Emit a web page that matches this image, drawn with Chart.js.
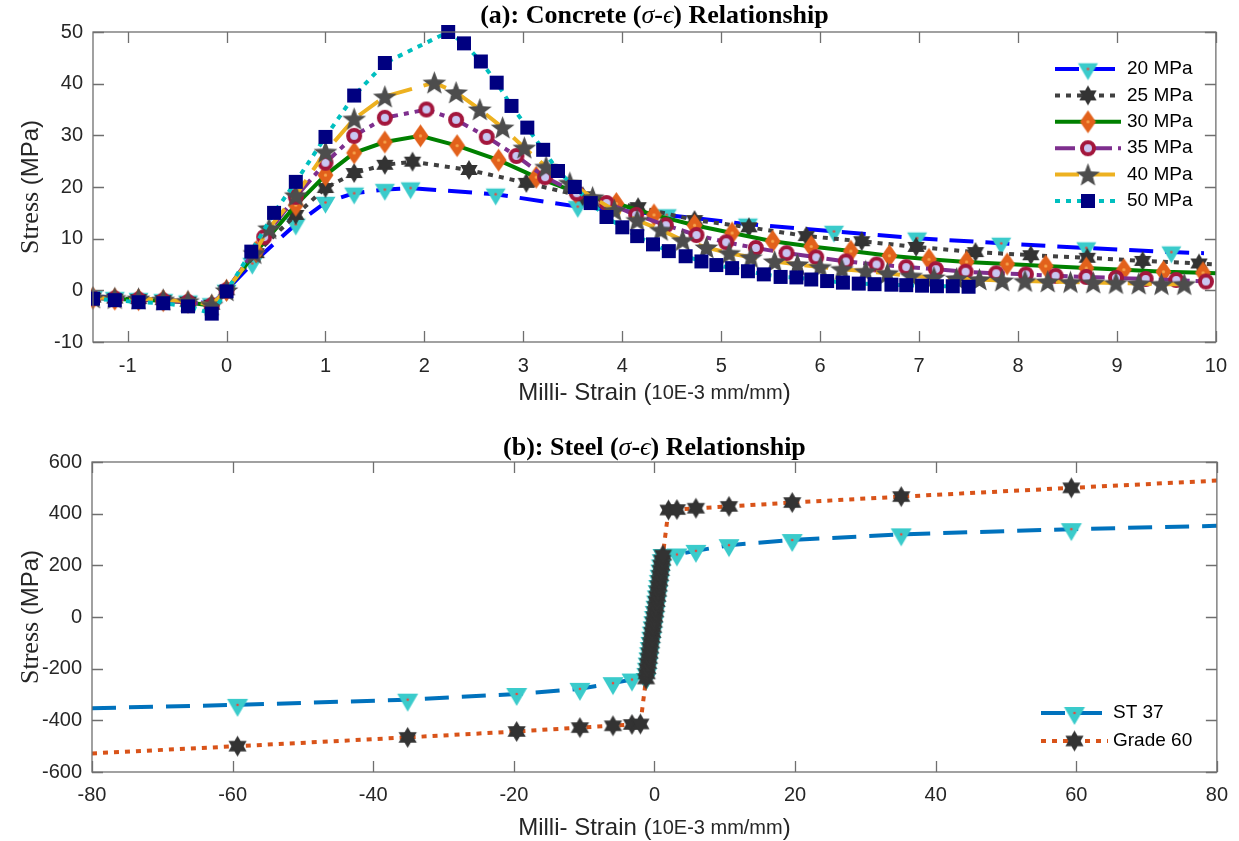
<!DOCTYPE html>
<html>
<head>
<meta charset="utf-8">
<script src="https://cdn.jsdelivr.net/npm/chart.js@4.4.1/dist/chart.umd.min.js"></script>
<style>
  html, body { margin: 0; padding: 0; background: #fff; }
  canvas { display: block; }
</style>
</head>
<body>
<canvas id="concrete" width="1239" height="420"></canvas>
<canvas id="steel" width="1239" height="421"></canvas>
<script>
// ---- concrete (a) data, strain in 10E-3 mm/mm, stress in MPa ----
const concreteLabels = ["20 MPa", "25 MPa", "30 MPa", "35 MPa", "40 MPa", "50 MPa"];

const strain20 = [-1.35, -1.13, -0.89, -0.64, -0.39, -0.15, 0, 0.26, 0.7, 1.0, 1.29, 1.6, 1.86, 2.72, 3.55, 4.45, 5.27, 6.14, 6.98, 7.83, 8.69, 9.55, 9.88];
const stress20 = [-1.2, -1.4, -1.6, -1.8, -2.1, -2.6, 0, 5.2, 12.8, 17, 18.8, 19.5, 19.8, 18.6, 16.2, 14.6, 12.8, 11.4, 10.1, 9.1, 8.2, 7.4, 7.2];

const strain25 = [-1.35, -1.13, -0.89, -0.64, -0.39, -0.15, 0, 0.3, 0.7, 1.0, 1.29, 1.6, 1.88, 2.45, 3.03, 3.6, 4.16, 4.73, 5.28, 5.86, 6.42, 6.97, 7.57, 8.13, 8.7, 9.26, 9.83, 10];
const stress25 = [-1.4, -1.6, -1.7, -1.9, -2.2, -2.8, 0, 7.2, 14.6, 19.8, 22.7, 24.3, 24.9, 23.3, 20.8, 18.2, 16.1, 13.6, 12.2, 10.5, 9.5, 8.4, 7.4, 6.8, 6.3, 5.7, 5.2, 5.0];

const strain30 = [-1.35, -1.13, -0.89, -0.64, -0.39, -0.15, 0, 0.3, 0.7, 1.0, 1.29, 1.6, 1.96, 2.33, 2.75, 3.13, 3.53, 3.94, 4.32, 4.73, 5.11, 5.52, 5.91, 6.31, 6.7, 7.1, 7.48, 7.89, 8.28, 8.69, 9.07, 9.47, 9.87, 10];
const stress30 = [-1.5, -1.7, -1.8, -2.0, -2.3, -3.0, 0, 7.5, 16.5, 22.3, 26.6, 28.7, 29.9, 28.0, 25.2, 21.9, 19.0, 16.8, 14.6, 12.6, 11.1, 9.5, 8.5, 7.6, 6.7, 6.0, 5.5, 5.1, 4.7, 4.3, 4.0, 3.6, 3.4, 3.3];

const strain35 = [-1.35, -1.13, -0.89, -0.64, -0.39, -0.15, 0, 0.38, 0.7, 1.0, 1.29, 1.6, 2.02, 2.32, 2.63, 2.93, 3.22, 3.54, 3.84, 4.14, 4.44, 4.75, 5.05, 5.35, 5.66, 5.96, 6.26, 6.57, 6.87, 7.17, 7.47, 7.78, 8.08, 8.38, 8.69, 8.99, 9.29, 9.6, 9.9];
const stress35 = [-1.5, -1.6, -1.8, -2.0, -2.3, -2.9, 0, 10.3, 18.1, 24.7, 29.9, 33.4, 35.0, 33.0, 29.7, 26.0, 21.9, 18.8, 16.9, 14.6, 12.6, 10.7, 9.3, 8.2, 7.2, 6.4, 5.6, 5.0, 4.5, 4.1, 3.6, 3.3, 3.1, 2.8, 2.6, 2.4, 2.2, 2.0, 1.7];

const strain40 = [-1.35, -1.13, -0.89, -0.64, -0.39, -0.15, 0, 0.28, 0.43, 0.7, 1.0, 1.29, 1.6, 2.1, 2.32, 2.56, 2.79, 3.01, 3.23, 3.47, 3.7, 3.92, 4.15, 4.39, 4.61, 4.85, 5.08, 5.3, 5.54, 5.77, 6.0, 6.22, 6.46, 6.68, 6.92, 7.15, 7.38, 7.61, 7.84, 8.07, 8.3, 8.53, 8.76, 8.99, 9.22, 9.45, 9.68];
const stress40 = [-1.4, -1.5, -1.6, -1.8, -2.1, -2.8, 0, 7.2, 12, 18.4, 26.8, 33.2, 37.5, 40.2, 38.3, 35, 31.5, 27.6, 23.9, 20.8, 18.0, 15.5, 13.6, 11.7, 9.7, 8.3, 7.2, 6.4, 5.6, 5.0, 4.5, 4.1, 3.7, 3.3, 2.8, 2.5, 2.3, 2.1, 1.9, 1.8, 1.7, 1.6, 1.5, 1.4, 1.3, 1.2, 1.2];

const strain50 = [-1.35, -1.13, -0.89, -0.64, -0.39, -0.15, 0, 0.25, 0.48, 0.7, 1.0, 1.29, 1.6, 2.24, 2.4, 2.57, 2.73, 2.88, 3.04, 3.2, 3.35, 3.52, 3.68, 3.84, 4.0, 4.15, 4.31, 4.47, 4.64, 4.8, 4.95, 5.11, 5.27, 5.43, 5.6, 5.76, 5.91, 6.07, 6.23, 6.39, 6.55, 6.72, 6.87, 7.03, 7.18, 7.34, 7.5];
const stress50 = [-1.6, -1.9, -2.3, -2.5, -3.1, -4.5, -0.2, 7.5, 15, 21, 29.7, 37.7, 44, 50, 47.8, 44.3, 40.2, 35.7, 31.5, 27.2, 23.1, 20.0, 16.9, 14.2, 12.2, 10.5, 8.9, 7.6, 6.6, 5.6, 4.9, 4.3, 3.7, 3.1, 2.6, 2.5, 2.1, 1.8, 1.5, 1.3, 1.2, 1.1, 1.0, 0.9, 0.8, 0.8, 0.7];

const xTicksA = [-1, 0, 1, 2, 3, 4, 5, 6, 7, 8, 9, 10];
const yTicksA = [-10, 0, 10, 20, 30, 40, 50];

// ---- steel (b) data ----
const steelLabels = ["ST 37", "Grade 60"];
const elasticStrain = [-1.2, -1.1, -1.0, -0.9, -0.8, -0.7, -0.6, -0.5, -0.4, -0.3, -0.2, -0.1, 0, 0.1, 0.2, 0.3, 0.4, 0.5, 0.6, 0.7, 0.8, 0.9, 1.0, 1.1, 1.2];
const elasticStress = [-240, -220, -200, -180, -160, -140, -120, -100, -80, -60, -40, -20, 0, 20, 40, 60, 80, 100, 120, 140, 160, 180, 200, 220, 240];

const st37StrainNeg = [-80, -59.3, -35.1, -19.6, -10.6, -5.9, -3.2];
const st37StressNeg = [-353, -340, -320, -298, -278, -256, -242];
const st37StrainPos = [3.2, 5.9, 10.6, 19.6, 35.1, 59.3, 80];
const st37StressPos = [242, 256, 278, 298, 320, 340, 353];

const g60StrainNeg = [-80, -59.3, -35.1, -19.6, -10.6, -5.9, -3.2, -2.0];
const g60StressNeg = [-528, -500, -466, -443, -428, -421, -416, -414];
const g60StrainPos = [2.0, 3.2, 5.9, 10.6, 19.6, 35.1, 59.3, 80];
const g60StressPos = [414, 416, 421, 428, 443, 466, 500, 528];

const xTicksB = [-80, -60, -40, -20, 0, 20, 40, 60, 80];
const yTicksB = [-600, -400, -200, 0, 200, 400, 600];

const SANS = "'Liberation Sans', Arial, sans-serif";
const SERIF = "'Liberation Serif', 'Times New Roman', serif";

// ---- marker images (MATLAB-like) ----
function marker(size, paint) {
  const c = document.createElement("canvas");
  c.width = size;
  c.height = size;
  const g = c.getContext("2d");
  g.translate(size / 2, size / 2);
  paint(g);
  return c;
}

function triDown(w, h) {
  return marker(Math.ceil(Math.max(w, (h * 4) / 3)) + 2, (g) => {
    g.beginPath();
    g.moveTo(-w / 2, -h / 3);
    g.lineTo(w / 2, -h / 3);
    g.lineTo(0, (2 * h) / 3);
    g.closePath();
    g.fillStyle = "#3ACBCB";
    g.fill();
    g.fillStyle = "#E8483C";
    g.beginPath();
    g.arc(0, 0, 1.3, 0, Math.PI * 2);
    g.fill();
  });
}

function hexagram(r, color) {
  return marker(Math.ceil(r * 2) + 2, (g) => {
    g.fillStyle = color;
    [1, -1].forEach((s) => {
      g.beginPath();
      g.moveTo(0, -r * s);
      g.lineTo(r * 0.866, (r / 2) * s);
      g.lineTo(-r * 0.866, (r / 2) * s);
      g.closePath();
      g.fill();
    });
  });
}

function pentagram(r, color) {
  return marker(Math.ceil(r * 2) + 2, (g) => {
    g.beginPath();
    for (let i = 0; i < 10; i++) {
      const rr = i % 2 ? r * 0.42 : r;
      const a = -Math.PI / 2 + (i * Math.PI) / 5;
      g.lineTo(rr * Math.cos(a), rr * Math.sin(a) + r * 0.08);
    }
    g.closePath();
    g.fillStyle = color;
    g.fill();
  });
}

function diamond(w, h) {
  return marker(Math.ceil(h) + 2, (g) => {
    g.beginPath();
    g.moveTo(0, -h / 2);
    g.lineTo(w / 2, 0);
    g.lineTo(0, h / 2);
    g.lineTo(-w / 2, 0);
    g.closePath();
    g.fillStyle = "#E2611B";
    g.fill();
    g.fillStyle = "#F8A64E";
    g.beginPath();
    g.arc(0, 0, 1.6, 0, Math.PI * 2);
    g.fill();
  });
}

function ring(r) {
  return marker(Math.ceil(r * 2) + 2, (g) => {
    g.beginPath();
    g.arc(0, 0, r - 2, 0, Math.PI * 2);
    g.fillStyle = "#C9C6F2";
    g.fill();
    g.lineWidth = 4;
    g.strokeStyle = "#A3163C";
    g.stroke();
  });
}

function square(s) {
  return marker(Math.ceil(s) + 2, (g) => {
    g.fillStyle = "#000080";
    g.fillRect(-s / 2, -s / 2, s, s);
  });
}

// ---- series helper ----
function series(label, xs, ys, color, dash, img, noMarkAt) {
  return {
    label: label,
    data: xs.map((x, i) => ({ x: x, y: ys[i] })),
    showLine: true,
    borderColor: color,
    backgroundColor: color,
    borderWidth: 4,
    borderDash: dash,
    tension: 0,
    pointStyle: img,
    pointRadius: xs.map((_, i) => (noMarkAt.includes(i) ? 0 : 9)),
    pointBorderWidth: 0,
    clip: { left: 2, right: 12, top: 12, bottom: 12 },
  };
}

// text runs with mixed fonts
function drawRuns(ctx, runs, cx, cy) {
  let total = 0;
  runs.forEach((r) => {
    ctx.font = r.f;
    total += ctx.measureText(r.t).width;
  });
  let x = cx - total / 2;
  ctx.textBaseline = "middle";
  ctx.textAlign = "left";
  runs.forEach((r) => {
    ctx.font = r.f;
    ctx.fillText(r.t, x, cy);
    x += ctx.measureText(r.t).width;
  });
}

// MATLAB style box, inward ticks, titles, legend
function matlabAxes(opt) {
  return {
    id: "matlabAxes",
    afterDatasetsDraw(chart) {
      const { ctx, chartArea: a, scales } = chart;
      ctx.save();
      ctx.strokeStyle = "#6f6f6f";
      ctx.lineWidth = 1.3;
      ctx.setLineDash([]);
      ctx.strokeRect(a.left, a.top, a.right - a.left, a.bottom - a.top);
      ctx.beginPath();
      scales.x.ticks.forEach((t) => {
        const px = Math.round(scales.x.getPixelForValue(t.value)) + 0.5;
        ctx.moveTo(px, a.bottom);
        ctx.lineTo(px, a.bottom - 11);
        ctx.moveTo(px, a.top);
        ctx.lineTo(px, a.top + 11);
      });
      scales.y.ticks.forEach((t) => {
        const py = Math.round(scales.y.getPixelForValue(t.value)) + 0.5;
        ctx.moveTo(a.left, py);
        ctx.lineTo(a.left + 11, py);
        ctx.moveTo(a.right, py);
        ctx.lineTo(a.right - 11, py);
      });
      ctx.stroke();

      // legend
      chart.data.datasets.forEach((ds, i) => {
        const y = opt.legend.y0 + i * opt.legend.dy;
        ctx.strokeStyle = ds.borderColor;
        ctx.lineWidth = 4;
        ctx.setLineDash(ds.borderDash);
        ctx.beginPath();
        ctx.moveTo(opt.legend.x1, y);
        ctx.lineTo(opt.legend.x2, y);
        ctx.stroke();
        const img = ds.pointStyle;
        ctx.drawImage(img, (opt.legend.x1 + opt.legend.x2) / 2 - img.width / 2, y - img.height / 2);
        ctx.setLineDash([]);
        ctx.fillStyle = "#000";
        ctx.font = "19px " + SANS;
        ctx.textAlign = "left";
        ctx.textBaseline = "middle";
        ctx.fillText(ds.label, opt.legend.tx, y);
      });
      ctx.restore();
    },
    afterDraw(chart) {
      const { ctx, chartArea: a } = chart;
      ctx.save();
      ctx.fillStyle = "#000";
      drawRuns(ctx, opt.title, (a.left + a.right) / 2, opt.titleY);
      ctx.fillStyle = "#262626";
      drawRuns(ctx, [
        { t: "Milli- Strain (", f: "24px " + SANS },
        { t: "10E-3 mm/mm", f: "20px " + SANS },
        { t: ")", f: "24px " + SANS },
      ], (a.left + a.right) / 2, a.bottom + opt.xTitleOff);
      ctx.translate(31, (a.top + a.bottom) / 2);
      ctx.rotate(-Math.PI / 2);
      drawRuns(ctx, [
        { t: "Stress ", f: "26px " + SERIF },
        { t: "(MPa)", f: "24px " + SANS },
      ], 0, 0);
      ctx.restore();
    },
  };
}

function axes(min, max, xTicks, yMin, yMax, yTicks, leftW, xH, pad) {
  const tickFont = { family: SANS, size: 20 };
  return {
    x: {
      type: "linear",
      min: min,
      max: max,
      grid: { display: false, drawTicks: false },
      border: { display: false },
      afterBuildTicks: (s) => { s.ticks = xTicks.map((v) => ({ value: v })); },
      ticks: { font: tickFont, color: "#262626", padding: pad, maxRotation: 0, autoSkip: false },
      afterFit: (s) => { s.height = xH; },
    },
    y: {
      type: "linear",
      min: yMin,
      max: yMax,
      grid: { display: false, drawTicks: false },
      border: { display: false },
      afterBuildTicks: (s) => { s.ticks = yTicks.map((v) => ({ value: v })); },
      ticks: { font: tickFont, color: "#262626", padding: 10, autoSkip: false },
      afterFit: (s) => { s.width = leftW; },
    },
  };
}

function titleRuns(head) {
  const f = 26;
  return [
    { t: head + " (", f: "bold " + f + "px " + SERIF },
    { t: "σ", f: "italic " + f + "px " + SERIF },
    { t: "-", f: "bold " + f + "px " + SERIF },
    { t: "ϵ", f: "italic " + f + "px " + SERIF },
    { t: ") Relationship", f: "bold " + f + "px " + SERIF },
  ];
}

const concreteSets = [
  series(concreteLabels[0], strain20, stress20, "#0000FF", [24, 12], triDown(20, 17), [strain20.length - 1]),
  series(concreteLabels[1], strain25, stress25, "#404040", [5, 6], hexagram(10, "#333333"), [strain25.length - 1]),
  series(concreteLabels[2], strain30, stress30, "#008000", [], diamond(16, 23), [strain30.length - 1]),
  series(concreteLabels[3], strain35, stress35, "#7E2F8E", [20, 6, 5, 6], ring(8), []),
  series(concreteLabels[4], strain40, stress40, "#EDB120", [24, 12], pentagram(12.5, "#4D4D4D"), []),
  series(concreteLabels[5], strain50, stress50, "#00BFBF", [5, 6], square(14), []),
];
// later series on top, as in MATLAB
concreteSets.forEach((d, i) => { d.order = concreteSets.length - i; });

new Chart(document.getElementById("concrete"), {
  type: "scatter",
  data: { datasets: concreteSets },
  options: {
    responsive: false,
    animation: false,
    events: [],
    layout: { padding: { left: 0, right: 21, top: 32, bottom: 0 } },
    plugins: { legend: { display: false }, tooltip: { enabled: false } },
    scales: axes(-1.35, 10, xTicksA, -10, 50, yTicksA, 93, 78, 12),
  },
  plugins: [matlabAxes({
    title: titleRuns("(a): Concrete"),
    titleY: 16,
    xTitleOff: 51,
    legend: { x1: 1055, x2: 1121, tx: 1127, y0: 69, dy: 26.4 },
  })],
});

const st37Strain = st37StrainNeg.concat(elasticStrain, st37StrainPos);
const st37Stress = st37StressNeg.concat(elasticStress, st37StressPos);
const g60Strain = g60StrainNeg.concat(elasticStrain, g60StrainPos);
const g60Stress = g60StressNeg.concat(elasticStress, g60StressPos);

const steelSets = [
  series(steelLabels[0], st37Strain, st37Stress, "#0072BD", [24, 13], triDown(21, 18), [0, st37Strain.length - 1]),
  series(steelLabels[1], g60Strain, g60Stress, "#D95319", [5, 6], hexagram(10.5, "#333333"), [0, g60Strain.length - 1]),
];
steelSets.forEach((d, i) => { d.order = steelSets.length - i; });

new Chart(document.getElementById("steel"), {
  type: "scatter",
  data: { datasets: steelSets },
  options: {
    responsive: false,
    animation: false,
    events: [],
    layout: { padding: { left: 0, right: 22, top: 42, bottom: 0 } },
    plugins: { legend: { display: false }, tooltip: { enabled: false } },
    scales: axes(-80, 80, xTicksB, -600, 600, yTicksB, 92, 69, 11),
  },
  plugins: [matlabAxes({
    title: titleRuns("(b): Steel"),
    titleY: 28,
    xTitleOff: 56,
    legend: { x1: 1041, x2: 1108, tx: 1113, y0: 293, dy: 28 },
  })],
});
</script>
</body>
</html>
